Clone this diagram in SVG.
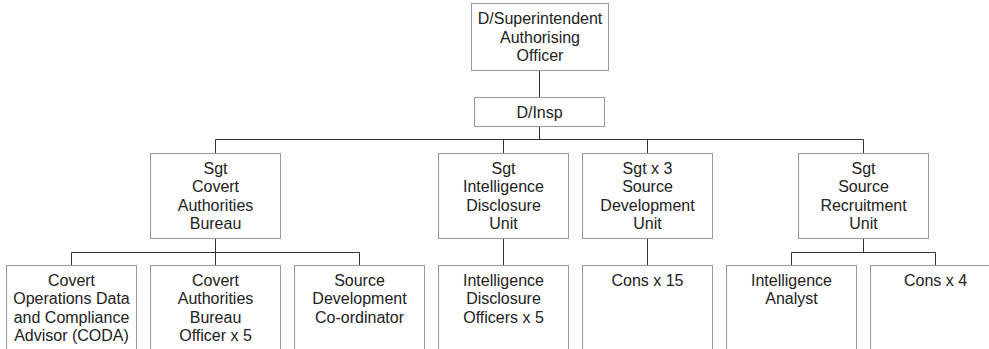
<svg xmlns="http://www.w3.org/2000/svg" width="989" height="349" viewBox="0 0 989 349">
<style>
.box{fill:#fff;stroke:#999;stroke-width:1}
.ln{stroke:#333;stroke-width:1;fill:none}
text{font-family:"Liberation Sans",Arial,sans-serif;font-size:16px;fill:#222;text-anchor:middle}
</style>
<rect width="989" height="349" fill="#fff"/>
<g id="connectors">
<path class="ln" d="M539.5,70.5V97.5 M539.5,126.5V139.5 M215.5,139.5H863.5 M215.5,139.5V153.5 M503.5,139.5V153.5 M647.5,139.5V153.5 M863.5,139.5V153.5"/>
<path class="ln" d="M215.5,238.5V252.5 M71.5,252.5H359.5 M71.5,252.5V265.5 M215.5,252.5V265.5 M359.5,252.5V265.5"/>
<path class="ln" d="M503.5,238.5V265.5 M647.5,238.5V265.5"/>
<path class="ln" d="M863.5,238.5V252.5 M791.5,252.5H935.5 M791.5,252.5V265.5 M935.5,252.5V265.5"/>
</g>
<g id="n-superintendent">
<rect class="box" x="471.5" y="3.5" width="137" height="67"/>
<text x="540" y="24">D/Superintendent</text>
<text x="540" y="42.5">Authorising</text>
<text x="540" y="61">Officer</text>
</g>
<g id="n-dinsp">
<rect class="box" x="474.5" y="97.5" width="130" height="29"/>
<text x="539.5" y="117.5">D/Insp</text>
</g>
<g id="n-sgt-cab">
<rect class="box" x="150.5" y="153.5" width="130" height="85"/>
<text x="215.5" y="174">Sgt</text>
<text x="215.5" y="192.4">Covert</text>
<text x="215.5" y="210.8">Authorities</text>
<text x="215.5" y="229.2">Bureau</text>
</g>
<g id="n-sgt-idu">
<rect class="box" x="438.5" y="153.5" width="130" height="85"/>
<text x="503.5" y="174">Sgt</text>
<text x="503.5" y="192.4">Intelligence</text>
<text x="503.5" y="210.8">Disclosure</text>
<text x="503.5" y="229.2">Unit</text>
</g>
<g id="n-sgt-sdu">
<rect class="box" x="582.5" y="153.5" width="130" height="85"/>
<text x="647.5" y="174">Sgt x 3</text>
<text x="647.5" y="192.4">Source</text>
<text x="647.5" y="210.8">Development</text>
<text x="647.5" y="229.2">Unit</text>
</g>
<g id="n-sgt-sru">
<rect class="box" x="798.5" y="153.5" width="130" height="85"/>
<text x="863.5" y="174">Sgt</text>
<text x="863.5" y="192.4">Source</text>
<text x="863.5" y="210.8">Recruitment</text>
<text x="863.5" y="229.2">Unit</text>
</g>
<g id="n-coda">
<rect class="box" x="6.5" y="265.5" width="130" height="100"/>
<text x="71.5" y="286">Covert</text>
<text x="71.5" y="304.4">Operations Data</text>
<text x="71.5" y="322.8">and Compliance</text>
<text x="71.5" y="341.2">Advisor (CODA)</text>
</g>
<g id="n-cab-officer">
<rect class="box" x="150.5" y="265.5" width="130" height="100"/>
<text x="215.5" y="286">Covert</text>
<text x="215.5" y="304.4">Authorities</text>
<text x="215.5" y="322.8">Bureau</text>
<text x="215.5" y="341.2">Officer x 5</text>
</g>
<g id="n-sdc">
<rect class="box" x="294.5" y="265.5" width="130" height="100"/>
<text x="359.5" y="286">Source</text>
<text x="359.5" y="304.4">Development</text>
<text x="359.5" y="322.8">Co-ordinator</text>
</g>
<g id="n-ido">
<rect class="box" x="438.5" y="265.5" width="130" height="100"/>
<text x="503.5" y="286">Intelligence</text>
<text x="503.5" y="304.4">Disclosure</text>
<text x="503.5" y="322.8">Officers x 5</text>
</g>
<g id="n-cons15">
<rect class="box" x="582.5" y="265.5" width="130" height="100"/>
<text x="647.5" y="286">Cons x 15</text>
</g>
<g id="n-analyst">
<rect class="box" x="726.5" y="265.5" width="130" height="100"/>
<text x="791.5" y="286">Intelligence</text>
<text x="791.5" y="304.4">Analyst</text>
</g>
<g id="n-cons4">
<rect class="box" x="870.5" y="265.5" width="130" height="100"/>
<text x="935.5" y="286">Cons x 4</text>
</g>
</svg>
